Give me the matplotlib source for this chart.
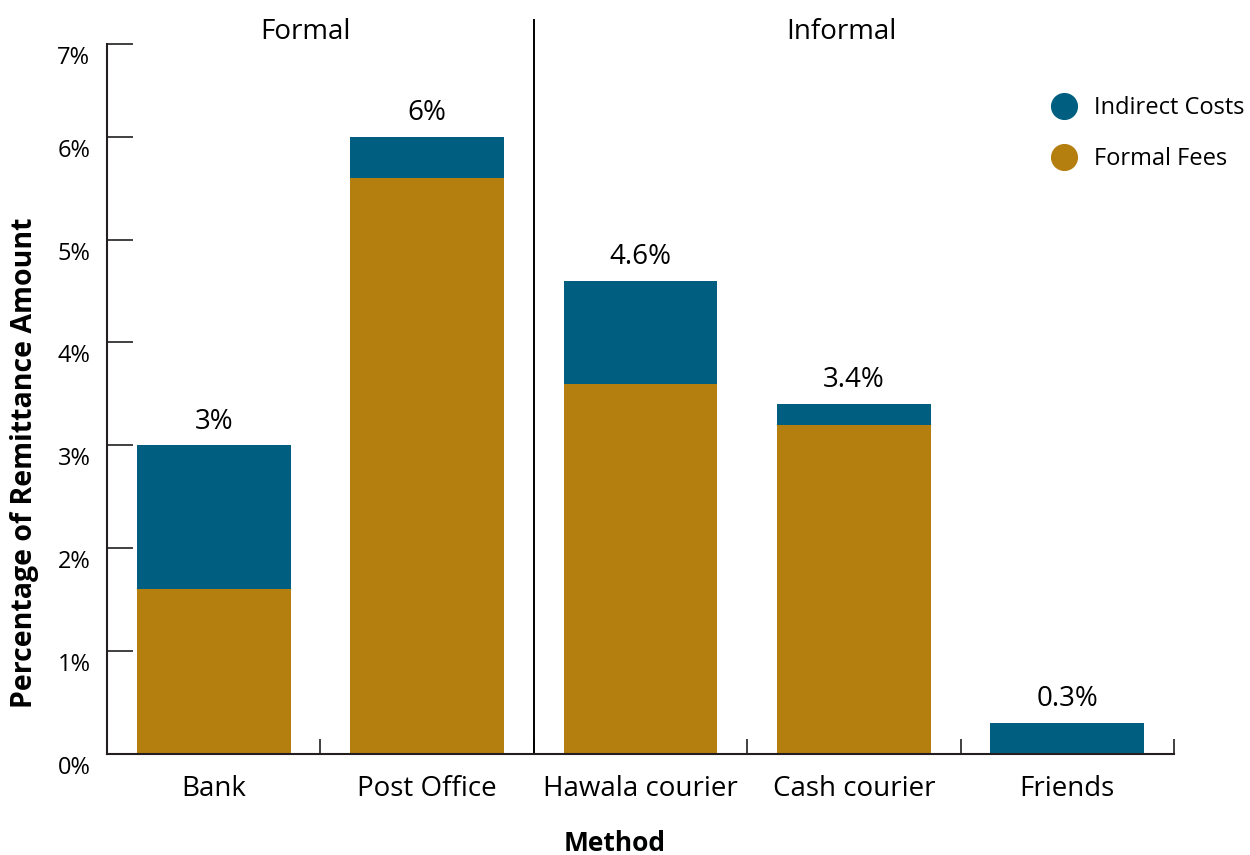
import numpy as np
import matplotlib
matplotlib.use("Agg")
import matplotlib.pyplot as plt
from matplotlib.lines import Line2D
from matplotlib.transforms import ScaledTranslation, blended_transform_factory

plt.rcParams['font.family'] = ['Open Sans', 'DejaVu Sans']

methods = ['Bank', 'Post Office', 'Hawala courier', 'Cash courier', 'Friends']
formal_fees = [1.6, 5.6, 3.6, 3.2, 0.0]
indirect_costs = [1.4, 0.4, 1.0, 0.2, 0.3]
total_labels = ['3%', '6%', '4.6%', '3.4%', '0.3%']
groups = ['Formal', 'Informal']
# the top tick of the original sits a little below 7 on its own scale
yticks = [0, 1, 2, 3, 4, 5, 6, 6.9]
ytick_labels = ['0%', '1%', '2%', '3%', '4%', '5%', '6%', '7%']

BLUE = '#005F80'
GOLD = '#B57F10'
INK = '#231F20'

fig = plt.figure(figsize=(12.5, 8.55), dpi=100)
ax = fig.add_axes([107/1250, 101/855, 1067/1250, 710/855])

x = np.arange(len(methods))
ax.bar(x, formal_fees, width=0.72, color=GOLD, label='Formal Fees')
ax.bar(x, indirect_costs, width=0.72, bottom=formal_fees, color=BLUE, label='Indirect Costs')

totals = np.array(formal_fees) + np.array(indirect_costs)
for xi, t, lab in zip(x, totals, total_labels):
    ax.annotate(lab, (xi, t), xytext=(0, 12), textcoords='offset points',
                ha='center', va='baseline', fontsize=20, color='black')

ax.set_xlim(-0.5, len(methods) - 0.5)
ax.set_ylim(0, 6.9)

for side in ['top', 'right']:
    ax.spines[side].set_visible(False)
for side in ['left', 'bottom']:
    ax.spines[side].set_linewidth(1.5)
    ax.spines[side].set_color(INK)

ax.set_yticks(yticks)
ax.set_yticklabels(ytick_labels)
ax.tick_params(axis='y', direction='in', length=19, width=1.2, color=INK,
               labelsize=17, pad=12)
off = ScaledTranslation(0, -11/100, fig.dpi_scale_trans)
for lbl in ax.get_yticklabels():
    lbl.set_transform(lbl.get_transform() + off)

ax.set_xticks(x)
ax.set_xticklabels(methods)
ax.set_xticks(np.arange(-0.5, len(methods)), minor=True)
ax.tick_params(axis='x', which='major', length=0, labelsize=20, pad=15)
ax.tick_params(axis='x', which='minor', direction='in', length=11, width=1.2, color=INK)

# separator between formal and informal
ax.axvline(1.5, ymin=0, ymax=(754 - 20) / 710, color='black', lw=1.4, clip_on=False)

tr = blended_transform_factory(ax.transData, fig.transFigure)
ax.text(0.43, (855 - 39) / 855, groups[0], transform=tr, ha='center', va='baseline', fontsize=20)
ax.text(2.94, (855 - 39) / 855, groups[1], transform=tr, ha='center', va='baseline', fontsize=20)

fig.text(615/1250, (855 - 843) / 855, 'Method', ha='center', va='center',
         fontsize=19, fontweight='bold')
fig.text(25/1250, (855 - 463) / 855, 'Percentage of Remittance Amount', rotation=90,
         ha='center', va='center', fontsize=20.5, fontweight='bold')

handles = [Line2D([], [], marker='o', ls='', ms=18.5, color=BLUE, label='Indirect Costs'),
           Line2D([], [], marker='o', ls='', ms=18.5, color=GOLD, label='Formal Fees')]
ax.legend(handles=handles, loc='upper left', bbox_to_anchor=(1040/1250, (855 - 96) / 855),
          bbox_transform=fig.transFigure, frameon=False, fontsize=17,
          handletextpad=0.3, labelspacing=1.15, borderpad=0, borderaxespad=0)

fig.savefig('out.png', dpi=100)
